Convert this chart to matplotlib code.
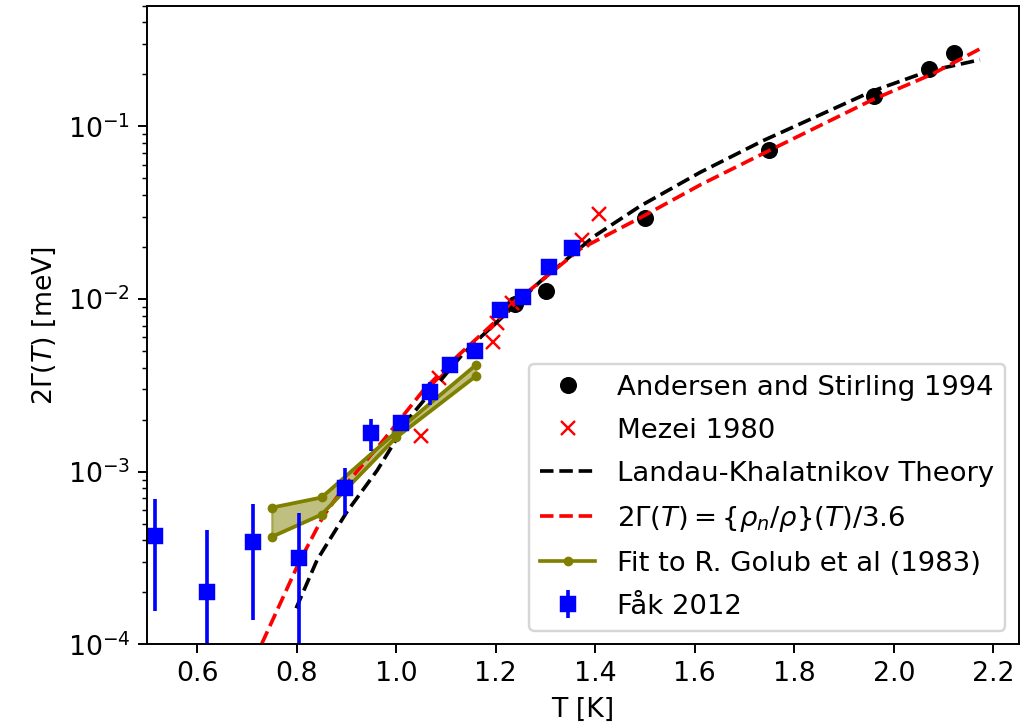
#! /usr/bin/env python3

import numpy as np
import matplotlib
matplotlib.use("Agg")
import matplotlib.pyplot as plt

plt.rcParams['font.size'] = 11

# Andersen and Stirling 1994
T_as = [1.239, 1.301, 1.50, 1.749, 1.960, 2.071, 2.121]
G_as = [0.0094, 0.0112, 0.0294, 0.0733, 0.150, 0.215, 0.267]

# Mezei 1980
T_mz = [1.050, 1.087, 1.195, 1.203, 1.233, 1.373, 1.407]
G_mz = [1.60e-3, 3.5e-3, 5.66e-3, 7.22e-3, 9.5e-3, 2.2e-2, 3.09e-2]

# Landau-Khalatnikov curve
T_lk = [0.799, 0.841, 0.901, 0.962, 1.028, 1.135, 1.289, 1.397, 1.490,
        1.611, 1.737, 1.957, 2.070, 2.173]
G_lk = [1.62e-4, 3.08e-4, 5.86e-4, 1.02e-3, 2.08e-3, 4.85e-3, 1.26e-2,
        2.3e-2, 3.45e-2, 5.42e-2, 8.26e-2, 0.160, 0.209, 0.243]

# normal fluid fraction / 3.6
T_rn = [0.730, 0.804, 0.853, 0.901, 0.975, 1.055, 1.122, 1.203, 1.269,
        1.370, 1.490, 1.612, 1.749, 1.958, 2.076, 2.173]
G_rn = [1.01e-4, 2.95e-4, 5.49e-4, 8.57e-4, 1.53e-3, 2.97e-3, 4.64e-3,
        7.57e-3, 1.13e-2, 1.95e-2, 2.95e-2, 4.6e-2, 7.23e-2, 0.143, 0.200, 0.281]

# Golub et al fit band
T_gb = [0.75, 0.85, 1.00, 1.16]
G_gb_hi = [6.2e-4, 7.1e-4, 1.70e-3, 4.15e-3]
G_gb_lo = [4.2e-4, 5.65e-4, 1.58e-3, 3.58e-3]

# Fak 2012
T_fk = [0.516, 0.620, 0.712, 0.804, 0.898, 0.950, 1.010, 1.067, 1.109,
        1.159, 1.208, 1.255, 1.308, 1.354]
G_fk = [4.26e-4, 2.02e-4, 3.93e-4, 3.15e-4, 8.08e-4, 1.67e-3, 1.91e-3,
        2.88e-3, 4.15e-3, 5.02e-3, 8.63e-3, 1.03e-2, 1.53e-2, 1.97e-2]
dG_fk = [2.7e-4, 2.6e-4, 2.55e-4, 2.6e-4, 2.45e-4, 3.6e-4, 1.5e-4,
         4.3e-4, 3e-4, 2e-4, 3e-4, 4e-4, 5e-4, 6e-4]

fig = plt.figure(figsize=(1031/175, 728/175), dpi=175)
ax = fig.add_axes([0.1429, 0.1148, 0.8455, 0.8774])

ax.plot(T_as, G_as, 'ko', label='Andersen and Stirling 1994')
ax.plot(T_mz, G_mz, 'rx', label='Mezei 1980')
ax.plot(T_lk, G_lk, 'k--', label='Landau-Khalatnikov Theory')
ax.plot(T_rn, G_rn, 'r--', label=r'$2\Gamma(T) = \{\rho_n/\rho\}(T)/3.6$')
ax.plot(T_gb, G_gb_hi, '.-', color='olive', label='Fit to R. Golub et al (1983)')
ax.plot(T_gb, G_gb_lo, '.-', color='olive')
ax.fill_between(T_gb, G_gb_lo, G_gb_hi, color='olive', alpha=0.5)
ax.errorbar(T_fk, G_fk, yerr=dG_fk, fmt='bs', label='Fåk 2012')

ax.set_yscale('log')
ax.set_xlim(0.5, 2.2516)
ax.set_ylim(1e-4, 0.5)
ax.set_xlabel('T [K]')
ax.set_ylabel(r'2$\Gamma(T)$ [meV]')
ax.legend(loc='lower right', fontsize=11.3, labelspacing=0.62)

fig.savefig('out.png', dpi=175)
